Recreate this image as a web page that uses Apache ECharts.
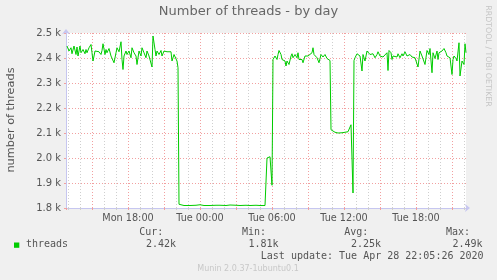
<!DOCTYPE html>
<html>
<head>
<meta charset="utf-8">
<script src="https://cdn.jsdelivr.net/npm/echarts@6/dist/echarts.min.js"></script>
<style>
html,body{margin:0;padding:0;background:#f0f0f0;}
#chart{width:497px;height:280px;}
</style>
</head>
<body>
<div id="chart"></div>
<script>
// time in minutes since Monday 00:00
const minutes = [
775,785,795,800,810,820,825,830,840,845,855,865,870,875,885,895,900,905,915,925,
935,945,950,955,965,970,975,985,995,1000,1010,1020,1025,1035,1045,1050,1055,1060,1070,1075,
1085,1095,1100,1110,1120,1125,1135,1145,1150,1160,1170,1175,1185,1195,1200,1205,1215,1220,1225,1235,
1245,1250,1260,1270,1275,1285,1295,1300,1310,1320,1325,1330,1335,1340,
1360,1390,1420,1440,1460,1490,1520,1540,1570,1590,1620,1640,1670,1690,1720,1740,1765,1770,
1775,1780,1790,1795,1800,1805,
1815,1825,1830,1835,1845,1850,1855,1865,1870,1875,1885,1895,1900,1905,1915,1925,1930,1935,1945,1950,
1955,1960,1965,1975,1980,1990,2000,2005,2010,2015,2025,2030,2035,2045,2050,2055,2065,2075,2080,2085,
2090,2095,2105,2115,2125,2130,2140,2150,2155,2165,2175,2180,2185,2195,2200,2205,2210,
2215,2225,2230,2240,2250,2255,2265,2275,2280,2290,2300,2305,2315,2325,2330,2340,2350,2355,2365,2375,
2380,2385,2395,2400,2405,2415,2425,2430,2440,2450,2455,2465,2475,2480,2490,2500,2505,2515,2525,2530,
2540,2545,2550,2555,2565,2575,2580,2585,2590,2600,2605,2615,2625,2630,2635,2645,2650,2660,2670,2675,
2680,2690,2700,2705,2710,2720,2725,2730,2735,2740,2750,2755,2760,2765,2770
];
const threads = [
2448,2428,2441,2417,2448,2414,2444,2408,2448,2421,2434,2417,2434,2421,2441,2454,2421,2388,2428,2421,
2425,2414,2430,2457,2414,2434,2421,2438,2408,2401,2381,2421,2441,2425,2465,2394,2354,2408,2428,2414,
2428,2401,2441,2421,2408,2374,2428,2408,2441,2421,2401,2428,2408,2414,2364,2488,2434,2408,2428,2414,
2430,2408,2428,2421,2425,2417,2425,2388,2414,2408,2388,2361,1815,1809,
1810,1810,1811,1813,1810,1810,1811,1811,1810,1812,1811,1810,1811,1810,1811,1810,1810,1810,
2000,2004,2005,2009,1891,2394,
2408,2394,2414,2430,2414,2394,2401,2388,2368,2388,2374,2408,2417,2401,2414,2401,2421,2394,2388,2394,
2381,2374,2408,2414,2408,2414,2421,2441,2414,2408,2401,2394,2381,2414,2417,2404,2414,2398,2401,2394,
2390,2113,2105,2103,2104,2100,2105,2101,2104,2103,2104,2105,2113,2133,2140,1860,2390,
2401,2417,2425,2408,2348,2414,2388,2428,2428,2414,2408,2417,2401,2414,2425,2408,2401,2404,2408,2421,
2350,2430,2421,2394,2408,2414,2404,2417,2401,2417,2408,2425,2408,2404,2414,2404,2408,2401,2408,2364,
2428,2434,2408,2401,2374,2430,2434,2414,2438,2341,2421,2398,2428,2394,2421,2414,2428,2438,2421,2408,
2414,2401,2334,2394,2408,2398,2388,2390,2461,2328,2388,2394,2374,2457,2421
];
const xLabelMinutes = [1080, 1440, 1800, 2160, 2520];
const xLabelTexts = ['Mon 18:00', 'Tue 00:00', 'Tue 06:00', 'Tue 12:00', 'Tue 18:00'];
const seriesName = 'threads';
const legendHeaders = ['Cur:', 'Min:', 'Avg:', 'Max:'];
const legendValues = ['2.42k', '1.81k', '2.25k', '2.49k'];
const titleText = 'Number of threads - by day';
const yAxisTitle = 'number of threads';
const lastUpdate = 'Last update: Tue Apr 28 22:05:26 2020';
const footer = 'Munin 2.0.37-1ubuntu0.1';
const sideText = 'RRDTOOL / TOBI OETIKER';

const chart = echarts.init(document.getElementById('chart'), null, {renderer: 'canvas'});
const redGrid = '#f2a0a0';
const grayGrid = '#cfcfcf';
const axisColor = '#c6c6f0';
const textColor = '#555555';
const sans = 'DejaVu Sans';
const mono = 'DejaVu Sans Mono';

const headerX = [139.3, 242, 344.3, 446];
const valueX = [146, 248.5, 351, 452.5];
const graphics = [
  {type:'text', left:'center', top:5, style:{text:titleText, font:'13px "DejaVu Sans"', fill:'#666666'}},
  {type:'text', x:11, y:120, rotation:Math.PI/2, style:{text:yAxisTitle, font:'11.3px "DejaVu Sans"', fill:textColor, align:'center', verticalAlign:'middle'}},
  {type:'text', x:488, y:56, rotation:-Math.PI/2, style:{text:sideText, font:'7.9px "DejaVu Sans"', fill:'#c4c4c4', align:'center', verticalAlign:'middle'}},
  {type:'rect', shape:{x:14, y:242.5, width:5.3, height:5.3}, style:{fill:'#00cc00'}},
  {type:'text', x:26, y:244.7, style:{text:seriesName, font:'10px "DejaVu Sans Mono"', fill:textColor, align:'left', verticalAlign:'middle'}},
  {type:'text', x:260.8, y:256.7, style:{text:lastUpdate, font:'10px "DejaVu Sans Mono"', fill:textColor, align:'left', verticalAlign:'middle'}},
  {type:'text', x:248, y:269.3, style:{text:footer, font:'8px "DejaVu Sans"', fill:'#c8c8c8', align:'center', verticalAlign:'middle'}}
];
legendHeaders.forEach((h, i) => {
  graphics.push({type:'text', x:headerX[i], y:232.3, style:{text:h, font:'10px "DejaVu Sans Mono"', fill:textColor, align:'left', verticalAlign:'middle'}});
  graphics.push({type:'text', x:valueX[i], y:244.7, style:{text:legendValues[i], font:'10px "DejaVu Sans Mono"', fill:textColor, align:'left', verticalAlign:'middle'}});
});

chart.setOption({
  animation: false,
  backgroundColor: '#f0f0f0',
  grid: {left:66, top:33, width:400, height:175, show:true, backgroundColor:'#ffffff', borderWidth:0},
  xAxis: {
    type:'value', min:770, max:2770, minInterval:180, maxInterval:180, splitNumber:11,
    axisLine:{show:true, lineStyle:{color:axisColor, width:1}, symbol:['none','arrow'], symbolSize:[6,5], symbolOffset:[0,4]},
    axisTick:{show:true, length:2, lineStyle:{color:redGrid}},
    minorTick:{show:true, splitNumber:3, length:2, lineStyle:{color:grayGrid}},
    splitLine:{show:true, showMinLine:false, showMaxLine:false, lineStyle:{color:redGrid, width:1, type:[1,2]}},
    minorSplitLine:{show:true, lineStyle:{color:grayGrid, width:1, type:[1,2]}},
    axisLabel:{
      margin:5, fontFamily:sans, fontSize:9.7, color:textColor, showMinLabel:false, showMaxLabel:false,
      formatter: v => { const i = xLabelMinutes.indexOf(Math.round(v)); return i >= 0 ? xLabelTexts[i] : ''; }
    }
  },
  yAxis: {
    type:'value', min:1800, max:2500, interval:100,
    axisLine:{show:true, lineStyle:{color:axisColor, width:1}, symbol:['none','arrow'], symbolSize:[6,5], symbolOffset:[0,4]},
    axisTick:{show:true, length:2, lineStyle:{color:redGrid}},
    splitLine:{show:true, lineStyle:{color:redGrid, width:1, type:[1,2]}},
    axisLabel:{margin:5, fontFamily:sans, fontSize:10, color:textColor, formatter: v => (v/1000).toFixed(1) + ' k'}
  },
  series: [{
    name: seriesName, type:'line', showSymbol:false, symbol:'none',
    lineStyle:{color:'#00cc00', width:1}, itemStyle:{color:'#00cc00'},
    data: minutes.map((m, i) => [m, threads[i]])
  }],
  graphic: graphics
});
</script>
</body>
</html>
